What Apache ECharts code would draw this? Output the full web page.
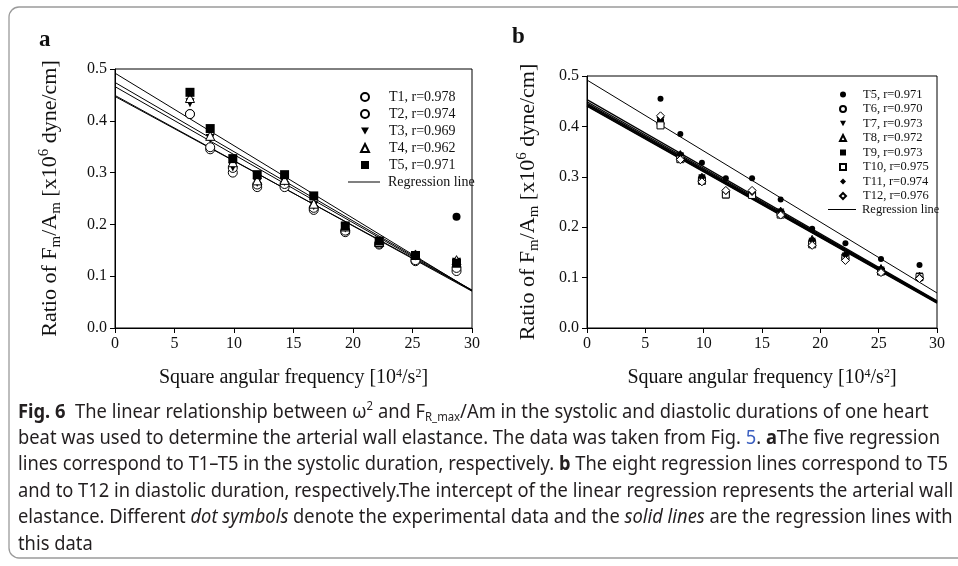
<!DOCTYPE html>
<html>
<head>
<meta charset="utf-8">
<script src="https://cdn.jsdelivr.net/npm/echarts@6/dist/echarts.min.js"></script>
<style>
  html, body { margin: 0; padding: 0; background: #fff; }
  #main { width: 958px; height: 566px; }
</style>
</head>
<body>
<div id="main"></div>
<script>
// frequencies (x)
var freqA = [6.3, 8.0, 9.9, 11.95, 14.25, 16.7, 19.35, 22.2, 25.25, 28.7];
var freqB = [6.3, 8.0, 9.85, 11.9, 14.15, 16.6, 19.3, 22.15, 25.2, 28.5];
var xTicks = [0, 5, 10, 15, 20, 25, 30];
var yTicks = [0.0, 0.1, 0.2, 0.3, 0.4, 0.5];

// panel a, systolic
var namesA = ['T1, r=0.978', 'T2, r=0.974', 'T3, r=0.969', 'T4, r=0.962', 'T5, r=0.971'];
var t1A = [0.413, 0.345, 0.300, 0.272, 0.272, 0.228, 0.185, 0.161, 0.129, 0.110];
var t2A = [0.413, 0.349, 0.309, 0.277, 0.278, 0.232, 0.188, 0.163, 0.131, 0.116];
var t3A = [0.435, 0.366, 0.311, 0.281, 0.283, 0.236, 0.193, 0.167, 0.139, 0.127];
var t4A = [0.444, 0.371, 0.320, 0.285, 0.286, 0.240, 0.196, 0.166, 0.142, 0.131];
var t5A = [0.455, 0.385, 0.327, 0.296, 0.296, 0.255, 0.197, 0.168, 0.140, 0.125];
var extraA = [[28.7, 0.215]];
var regStartA = [0.447, 0.449, 0.466, 0.474, 0.492];
var regEndA   = [0.073, 0.071, 0.072, 0.073, 0.072];

// panel b, diastolic
var namesB = ['T5, r=0.971', 'T6, r=0.970', 'T7, r=0.973', 'T8, r=0.972',
              'T9, r=0.973', 'T10, r=0.975', 'T11, r=0.974', 'T12, r=0.976'];
var t5B  = [0.455, 0.385, 0.328, 0.297, 0.297, 0.255, 0.197, 0.168, 0.137, 0.125];
var t6B  = [0.405, 0.337, 0.293, 0.266, 0.266, 0.226, 0.167, 0.138, 0.111, 0.099];
var t7B  = [0.410, 0.342, 0.298, 0.268, 0.268, 0.230, 0.172, 0.143, 0.115, 0.102];
var t8B  = [0.412, 0.345, 0.300, 0.271, 0.270, 0.233, 0.177, 0.147, 0.119, 0.104];
var t9B  = [0.408, 0.340, 0.296, 0.264, 0.265, 0.228, 0.170, 0.141, 0.113, 0.103];
var t10B = [0.402, 0.335, 0.292, 0.265, 0.264, 0.225, 0.166, 0.140, 0.112, 0.101];
var t11B = [0.418, 0.344, 0.299, 0.272, 0.270, 0.231, 0.174, 0.145, 0.117, 0.100];
var t12B = [0.421, 0.334, 0.290, 0.273, 0.273, 0.224, 0.164, 0.134, 0.110, 0.098];
var regStartB = [0.492, 0.453, 0.449, 0.446, 0.443, 0.441, 0.444, 0.440];
var regEndB   = [0.0695, 0.054, 0.053, 0.052, 0.051, 0.050, 0.052, 0.049];

var serif = "'Liberation Serif', 'DejaVu Serif', serif";
var capFont = "'Noto Sans', 'Open Sans', 'Liberation Sans', sans-serif";
var DOWN = 'path://M0,0L10,0L5,9Z';

function pairs(xs, ys)
{
    return ys.map(function(v, i) { return [xs[i], v]; });
}

function scatter(name, idx, data, symbol, size, open)
{
    return {
        name: name,
        type: 'scatter',
        xAxisIndex: idx,
        yAxisIndex: idx,
        data: data,
        symbol: symbol,
        symbolSize: size,
        z: 5,
        itemStyle: open ? {color: '#fff', borderColor: '#000', borderWidth: 1, opacity: 1}
                        : {color: '#000', borderColor: '#000', borderWidth: 0, opacity: 1}
    };
}

function regLine(name, idx, a, b, width)
{
    return {
        name: name,
        type: 'line',
        xAxisIndex: idx,
        yAxisIndex: idx,
        data: [[0, a], [30, b]],
        symbol: 'none',
        silent: true,
        z: 2,
        itemStyle: {color: '#000'},
        lineStyle: {color: '#000', width: width}
    };
}

var series = [];
regStartA.forEach(function(a, i) { series.push(regLine('a:Regression line', 0, a, regEndA[i], 1)); });
regStartB.forEach(function(a, i) { series.push(regLine('b:Regression line', 1, a, regEndB[i], i == 0 ? 1 : 1.3)); });

series.push(scatter('a:' + namesA[0], 0, pairs(freqA, t1A), 'circle', 9, true));
series.push(scatter('a:' + namesA[1], 0, pairs(freqA, t2A), 'circle', 9, true));
series.push(scatter('a:' + namesA[2], 0, pairs(freqA, t3A), DOWN, 9, false));
series.push(scatter('a:' + namesA[3], 0, pairs(freqA, t4A), 'triangle', 9, true));
series.push(scatter('a:' + namesA[4], 0, pairs(freqA, t5A), 'rect', 9, false));
series.push(scatter('a:extra', 0, extraA, 'circle', 8, false));

series.push(scatter('b:' + namesB[0], 1, pairs(freqB, t5B), 'circle', 6, false));
series.push(scatter('b:' + namesB[1], 1, pairs(freqB, t6B), 'circle', 7, true));
series.push(scatter('b:' + namesB[2], 1, pairs(freqB, t7B), DOWN, 7, false));
series.push(scatter('b:' + namesB[3], 1, pairs(freqB, t8B), 'triangle', 7, true));
series.push(scatter('b:' + namesB[4], 1, pairs(freqB, t9B), 'rect', 7, false));
series.push(scatter('b:' + namesB[5], 1, pairs(freqB, t10B), 'rect', 7, true));
series.push(scatter('b:' + namesB[6], 1, pairs(freqB, t11B), 'diamond', 8, false));
series.push(scatter('b:' + namesB[7], 1, pairs(freqB, t12B), 'diamond', 8, true));

var stripPrefix = function(name) { return name.substring(2); };

function xAxisFor(idx)
{
    return {
        gridIndex: idx,
        type: 'value',
        min: 0, max: 30, interval: 5,
        name: 'Square angular frequency [10{sup|4}/s{sup|2}]',
        nameLocation: 'middle',
        nameGap: 40,
        nameTextStyle: {
            color: '#111', fontFamily: serif, fontSize: 20,
            rich: {sup: {fontSize: 12, verticalAlign: 'top', lineHeight: 14, fontFamily: serif, color: '#111'}}
        },
        axisLine: {lineStyle: {color: '#000', width: 1}},
        axisTick: {inside: false, length: 5, lineStyle: {color: '#000'}},
        axisLabel: {color: '#111', fontFamily: serif, fontSize: 16, margin: 8},
        splitLine: {show: false}
    };
}

function yAxisFor(idx, gap)
{
    return {
        gridIndex: idx,
        type: 'value',
        min: 0, max: 0.5, interval: 0.1,
        name: 'Ratio of F{sub|m}/A{sub|m} [x10{sup|6} dyne/cm]',
        nameLocation: 'middle',
        nameGap: gap,
        nameTextStyle: {
            color: '#111', fontFamily: serif, fontSize: 22, lineHeight: 27,
            rich: {
                sub: {fontSize: 15, verticalAlign: 'bottom', lineHeight: 15, fontFamily: serif, color: '#111'},
                sup: {fontSize: 15, verticalAlign: 'top', lineHeight: 15, fontFamily: serif, color: '#111'}
            }
        },
        axisLine: {lineStyle: {color: '#000', width: 1}},
        axisTick: {inside: false, length: 5, lineStyle: {color: '#000'}},
        axisLabel: {color: '#111', fontFamily: serif, fontSize: 16, margin: 8,
                    formatter: function(v) { return v.toFixed(1); }},
        splitLine: {show: false}
    };
}

function legendFor(names, left, top, itemWidth, size, fontSize, gap, textPad)
{
    return {
        left: left, top: top, orient: 'vertical', padding: 0,
        itemWidth: itemWidth, itemHeight: size, itemGap: gap,
        selectedMode: false,
        formatter: stripPrefix,
        textStyle: {color: '#111', fontFamily: serif, fontSize: fontSize, lineHeight: fontSize,
                    padding: [0, 0, 0, textPad]},
        data: names
    };
}

// caption lines
var capLines = [
    '{b|Fig. 6}  The linear relationship between \u03c9{sup|2} and F{sub|R_max}/Am in the systolic and diastolic durations of one heart',
    'beat was used to determine the arterial wall elastance. The data was taken from Fig. {link|5}. {b|a}The five regression',
    'lines correspond to T1\u2013T5 in the systolic duration, respectively. {b|b} The eight regression lines correspond to T5',
    'and to T12 in diastolic duration, respectively.The intercept of the linear regression represents the arterial wall',
    'elastance. Different {i|dot symbols} denote the experimental data and the {i|solid lines} are the regression lines with',
    'this data'
];
var capTop = 412;
var capStep = 26.4;
var capLeft = 18;
var capSize = 19.5;

// squeeze the caption horizontally so the first line spans the frame, like a condensed face
var measureCtx = document.createElement('canvas').getContext('2d');
measureCtx.font = capSize + 'px ' + capFont;
var plainFirst = capLines[0].replace(/\{\w+\|([^}]*)\}/g, '$1');
var capScale = 940 / (measureCtx.measureText(plainFirst).width + 6);

var capRich = {
    b: {fontWeight: 'bold', fontSize: capSize, fontFamily: capFont, fill: '#231f20'},
    i: {fontStyle: 'italic', fontWeight: 'normal', fontSize: capSize, fontFamily: capFont, fill: '#231f20'},
    link: {fontSize: capSize, fontFamily: capFont, fill: '#3b5fc0'},
    sup: {fontSize: capSize * 0.62, fontFamily: capFont, verticalAlign: 'top', lineHeight: capSize * 0.75, fill: '#231f20'},
    sub: {fontSize: capSize * 0.62, fontFamily: capFont, verticalAlign: 'bottom', lineHeight: capSize * 0.7, fill: '#231f20'}
};

var graphics = [
    {
        type: 'rect', silent: true,
        shape: {x: 9, y: 7, width: 1000, height: 551, r: 10},
        style: {fill: 'none', stroke: '#9a9a9a', lineWidth: 1.3}
    },
    {type: 'text', left: 39, top: 29, style: {text: 'a', font: 'bold 23px ' + serif, fill: '#111'}},
    {type: 'text', left: 512, top: 26, style: {text: 'b', font: 'bold 23px ' + serif, fill: '#111'}}
];
capLines.forEach(function(line, i)
{
    graphics.push({
        type: 'text', silent: true,
        x: capLeft, y: capTop + i * capStep,
        scaleX: capScale,
        style: {
            text: line, fill: '#231f20', fontSize: capSize, fontFamily: capFont,
            lineHeight: capSize * 1.2, verticalAlign: 'middle', rich: capRich
        }
    });
});

var chart = echarts.init(document.getElementById('main'), null, {renderer: 'canvas'});
var option = {
    animation: false,
    backgroundColor: '#fff',
    grid: [
        {left: 115, top: 69, width: 357, height: 259, show: true, borderColor: '#000', borderWidth: 1, backgroundColor: 'transparent'},
        {left: 587, top: 76, width: 350, height: 252, show: true, borderColor: '#000', borderWidth: 1, backgroundColor: 'transparent'}
    ],
    xAxis: [xAxisFor(0), xAxisFor(1)],
    yAxis: [yAxisFor(0, 51), yAxisFor(1, 45)],
    legend: [
        legendFor(namesA.map(function(n) { return 'a:' + n; }), 360, 90, 8, 8, 14, 3, 15),
        legendFor([{name: 'a:Regression line', icon: 'rect'}], 348, 175, 32, 1, 14, 3, 3),
        legendFor(namesB.map(function(n) { return 'b:' + n; }), 839, 88, 6, 6, 12.5, 1.5, 12),
        legendFor([{name: 'b:Regression line', icon: 'rect'}], 828, 203, 28, 1, 12.5, 2, 1)
    ],
    graphic: graphics,
    series: series
};
chart.setOption(option);
</script>
</body>
</html>
